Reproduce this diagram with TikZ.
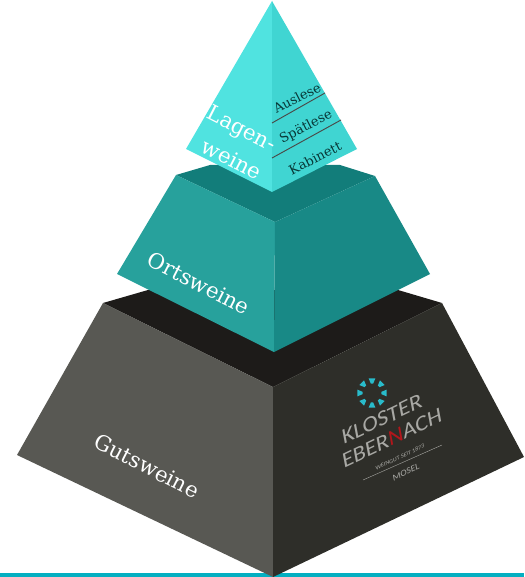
\documentclass[tikz,border=0pt]{standalone}
\usepackage{fontspec}
\newfontfamily\slabfont{DejaVu Serif}
\setsansfont{Carlito}
\definecolor{lagenlight}{HTML}{50E3E0}
\definecolor{lagendark}{HTML}{40D5D2}
\definecolor{ortslight}{HTML}{27A19C}
\definecolor{ortsdark}{HTML}{188986}
\definecolor{ortstop}{HTML}{127D7A}
\definecolor{gutslight}{HTML}{585853}
\definecolor{gutsdark}{HTML}{2E2E29}
\definecolor{gutstop}{HTML}{1D1B19}
\definecolor{barblue}{HTML}{03AFC1}
\definecolor{logogray}{HTML}{A8A8A4}
\definecolor{logored}{HTML}{B3161B}
\tikzset{
  winelabel/.style={text=white, font=\slabfont\fontsize{16}{16}\selectfont, inner sep=0pt, rotate=-27},
  praedikat/.style={text=ortstop!45!black, font=\slabfont\fontsize{9.8}{10}\selectfont, inner sep=0pt, rotate=27},
  logotext/.style={text=logogray, inner sep=0pt, yslant=0.3, rotate=10}
}
\begin{document}
\begin{tikzpicture}[x=0.75pt,y=-0.75pt]
  \useasboundingbox (0,0) rectangle (524,577);
  % Bottom bar
  \fill[barblue] (0,573) rectangle (524,577);
  % Gutsweine block
  \fill[gutstop] (103,303) -- (148,290) -- (398,290) -- (442,303) -- (273,387) -- cycle;
  \fill[gutslight] (103,303) -- (273,387) -- (273,577) -- (17,455) -- cycle;
  \fill[gutsdark] (442,303) -- (273,387) -- (273,577) -- (524,457) -- cycle;
  % Ortsweine block
  \fill[ortstop] (176,175) -- (210,165) -- (340,165) -- (375,176) -- (275,222) -- cycle;
  \fill[ortslight] (176,175) -- (275,222) -- (274,352) -- (117,274) -- cycle;
  \fill[ortsdark] (375,176) -- (275,222) -- (274,352) -- (430,274) -- cycle;
  % Lagenweine tip
  \fill[lagenlight] (272,1) -- (186,149) -- (272,192) -- cycle;
  \fill[lagendark] (272,1) -- (357,149) -- (272,192) -- cycle;
  % Dividing lines
  \draw[gutstop!80, line width=0.7pt] (272,123) -- (325,93);
  \draw[gutstop!80, line width=0.7pt] (272,158) -- (341,120);
  % Labels
  \node[winelabel] (lagen) at (241,130) {Lagen-};
  \node[winelabel] (weine) at (232,159) {weine};
  \node[winelabel] (orts) at (199,283) {Ortsweine};
  \node[winelabel] (guts) at (147,466) {Gutsweine};
  \node[praedikat] (auslese) at (297,98) {Auslese};
  \node[praedikat] (spaetlese) at (306,127) {Spätlese};
  \node[praedikat] (kabinett) at (315,158) {Kabinett};
  % Logo
  \begin{scope}[shift={(372,393)}]
    \foreach \a in {0,45,...,315}
      \fill[barblue!85!white] (\a-13:15) -- (\a+13:15) -- (\a+7:9.5) -- (\a-7:9.5) -- cycle;
  \end{scope}
  \node[logotext, font=\sffamily\fontsize{17}{17}\selectfont] (kloster) at (382,419) {KLOSTER};
  \node[logotext, font=\sffamily\fontsize{17}{17}\selectfont] (ebernach) at (392,438) {EBER{\color{logored}N}ACH};
  \node[logotext, font=\sffamily\fontsize{4.5}{5}\selectfont] (weingut) at (400,457) {WEINGUT SEIT 1873};
  \draw[logogray, line width=0.3pt] (363,480) -- (442,445);
  \node[logotext, font=\sffamily\fontsize{7}{7}\selectfont] (mosel) at (406,472) {MOSEL};
\end{tikzpicture}
\end{document}
